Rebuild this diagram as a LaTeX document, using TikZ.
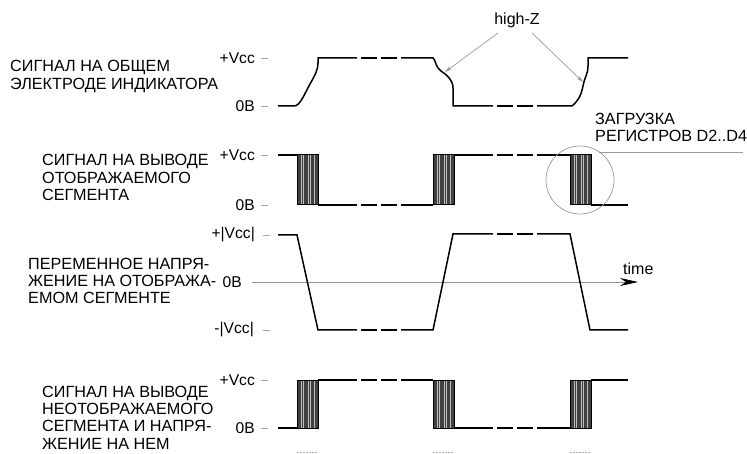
\documentclass[tikz,border=0pt]{standalone}
\usepackage{fontspec}
\setmainfont{Liberation Sans}
\usetikzlibrary{arrows.meta}
\tikzset{
  lbl/.style={font=\fontsize{16.2}{17.3}\selectfont, align=left, anchor=west, inner sep=0pt},
  lvl/.style={font=\fontsize{15.6}{17}\selectfont, anchor=east, inner sep=0pt},
  tickln/.style={draw=gray!70, line width=0.7pt},
  wave/.style={line width=1.5pt, line join=miter},
  thinln/.style={draw=gray!80, line width=0.7pt},
  blkfill/.style={fill=black!75},
  blkline/.style={draw=gray!50, line width=0.7pt},
  blkedge/.style={draw=black, line width=1pt}
}
\newcommand{\pblock}[3]{%
  \begin{scope}[shift={(#1,#2)}]
    \fill[blkfill] (0,0) rectangle (21,#3);
    \foreach \dd in {4.5,6.5,11.5,13.5,17}{\draw[blkline] (\dd,0) -- (\dd,#3);}
    \draw[blkedge] (0,0) rectangle (21,#3);
  \end{scope}}
\newcommand{\brkA}[1]{%
  \draw[wave] (361,#1) -- (377,#1); \draw[wave] (381,#1) -- (397,#1);}
\newcommand{\brkB}[1]{%
  \draw[wave] (497,#1) -- (513,#1); \draw[wave] (517,#1) -- (533,#1);}
\begin{document}
\begin{tikzpicture}[x=1pt,y=-1pt]
\useasboundingbox (0,0) rectangle (747,454);

% ---------- left texts ----------
\node[lbl] (t1) at (10,76.5) {СИГНАЛ НА ОБЩЕМ\\ЭЛЕКТРОДЕ ИНДИКАТОРА};
\node[lbl] (t2) at (42,177.5) {СИГНАЛ НА ВЫВОДЕ\\ОТОБРАЖАЕМОГО\\СЕГМЕНТА};
\node[lbl] (t3) at (28,281) {ПЕРЕМЕННОЕ НАПРЯ-\\ЖЕНИЕ НА ОТОБРАЖА-\\ЕМОМ СЕГМЕНТЕ};
\node[lbl] (t4) at (42,417.5) {СИГНАЛ НА ВЫВОДЕ\\НЕОТОБРАЖАЕМОГО\\СЕГМЕНТА И НАПРЯ-\\ЖЕНИЕ НА НЕМ};

% ---------- level labels ----------
\node[lvl] (l1h) at (255,58) {+Vcc};  \draw[tickln] (261,58) -- (268,58);
\node[lvl] (l1l) at (255,106) {0B};   \draw[tickln] (261,106) -- (268,106);
\node[lvl] (l2h) at (255,155) {+Vcc}; \draw[tickln] (261,155) -- (268,155);
\node[lvl] (l2l) at (255,205) {0B};   \draw[tickln] (261,205) -- (268,205);
\node[lvl] (l3h) at (255,235) {+|Vcc|}; \draw[tickln] (263,235) -- (270,235);
\node[lvl] (l3m) at (242,282) {0B};
\node[lvl] (l3l) at (254,330) {-|Vcc|}; \draw[tickln] (263,330) -- (270,330);
\node[lvl] (l4h) at (255,380) {+Vcc}; \draw[tickln] (261,380) -- (268,380);
\node[lvl] (l4l) at (255,428) {0B};   \draw[tickln] (261,428) -- (268,428);

% ---------- row 1 ----------
\draw[wave] (278,106) -- (294,106) .. controls (300,106) and (304,95) .. (310,84)
  .. controls (315,75) and (318,70) .. (318,63) -- (318,58) -- (357,58);
\brkA{58}
\draw[wave] (401,58) -- (433,58) .. controls (436,60) and (435,67) .. (441,71)
  .. controls (447,75) and (453,80) .. (453,88) -- (453,106) -- (493,106);
\brkB{106}
\draw[wave] (537,106) -- (572,106) .. controls (578,101) and (581,96) .. (583,86)
  .. controls (585,76) and (588,74) .. (588,66) -- (588,58) -- (628,58);

\node[font=\fontsize{16}{17}\selectfont, inner sep=0pt] (hz) at (517,20) {high-Z};
\coordinate (hzA) at (445,72);
\coordinate (hzB) at (583,82);
\coordinate (hzS1) at (498,33);
\coordinate (hzS2) at (532,33);
\draw[thinln, -{Stealth[length=7pt,width=4pt]}] (hzS1) -- (hzA);
\draw[thinln, -{Stealth[length=7pt,width=4pt]}] (hzS2) -- (hzB);

% ---------- row 2 ----------
\draw[wave] (278,155) -- (297,155);
\pblock{297}{155}{50}
\draw[wave] (318,205) -- (357,205);
\brkA{205}
\draw[wave] (401,205) -- (433,205);
\pblock{433}{155}{50}
\draw[wave] (455,155) -- (493,155);
\brkB{155}
\draw[wave] (537,155) -- (570,155);
\pblock{570}{155}{50}
\draw[wave] (591,205) -- (628,205);

\node (c) [draw=gray!80, line width=0.7pt, circle, minimum size=68pt, inner sep=0pt] at (580,180) {};
\coordinate (u1) at (599,152);
\coordinate (u2) at (743,152);
\draw[thinln] (u1) -- (u2);
\node[lbl] (zr) at (595,127.5) {ЗАГРУЗКА\\РЕГИСТРОВ D2..D4};

% ---------- row 3 ----------
\coordinate (ax0) at (252,282);
\coordinate (ax1) at (638,282);
\draw[draw=gray!85, line width=0.8pt, -{Stealth[black,length=18pt,width=8pt]}] (ax0) -- (ax1);
\node[font=\fontsize{16}{17}\selectfont, anchor=west, inner sep=0pt] (tm) at (623,269) {time};
\draw[wave] (278,235) -- (297,235) -- (318,330) -- (357,330);
\brkA{330}
\draw[wave] (401,330) -- (433,330) -- (453,234) -- (493,234);
\brkB{234}
\draw[wave] (537,234) -- (570,234) -- (590,330) -- (628,330);

% ---------- row 4 ----------
\draw[wave] (278,428) -- (297,428);
\pblock{297}{380}{48}
\draw[wave] (318,380) -- (357,380);
\brkA{380}
\draw[wave] (401,380) -- (433,380);
\pblock{433}{380}{48}
\draw[wave] (455,428) -- (493,428);
\brkB{428}
\draw[wave] (537,428) -- (570,428);
\pblock{570}{380}{48}
\draw[wave] (591,380) -- (628,380);

% ---------- clipped row below ----------
\begin{scope}
\clip (0,0) rectangle (747,454);
\node[lvl] (l5l) at (255,462) {0B};
\foreach \bx in {297,433,570}{
  \draw[gray!60, line width=0.5pt, dash pattern=on 1.5pt off 1.5pt] (\bx,452.5) -- ++(21,0);}
\end{scope}
\end{tikzpicture}
\end{document}
